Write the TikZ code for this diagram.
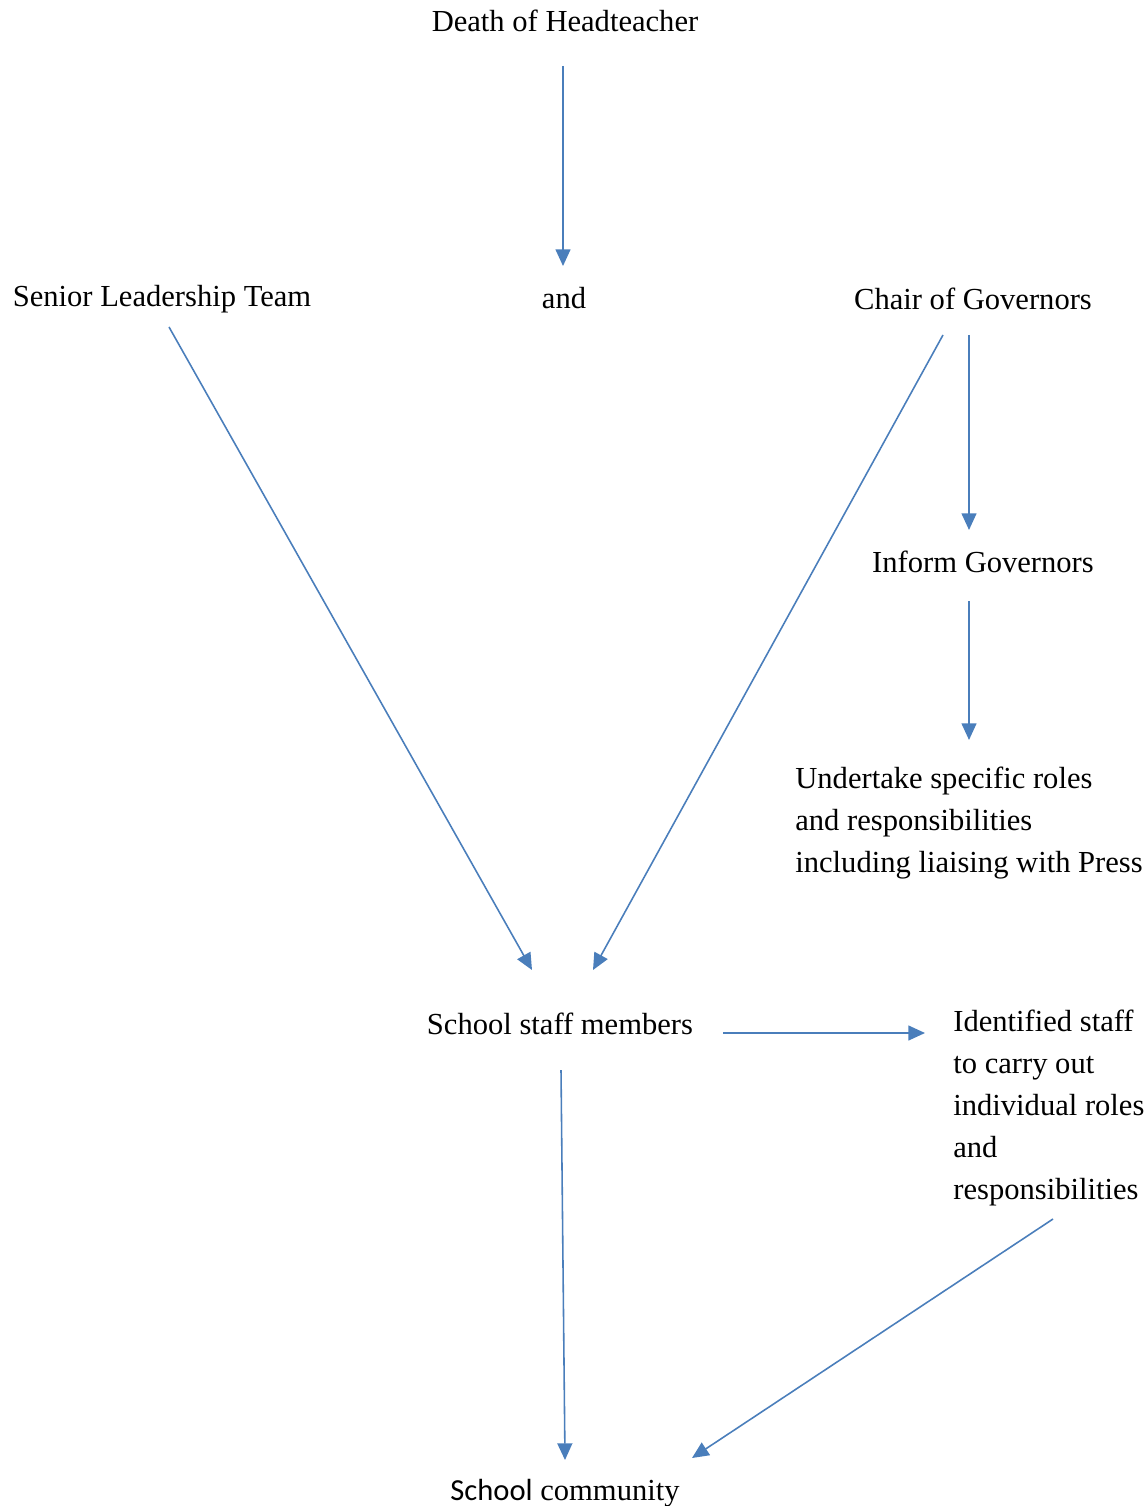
\documentclass[tikz,border=0pt]{standalone}
\usepackage{fontspec}
\setmainfont{Liberation Serif}
\newfontfamily\calibri{Carlito}
\usepackage{tikz}
\usetikzlibrary{arrows.meta,calc}

\definecolor{wordblue}{HTML}{4A7EBB}

\begin{document}
\begin{tikzpicture}[x=0.02cm,y=-0.02cm,
        lbl/.style={inner sep=0pt,font=\fontsize{17.4}{23.8}\selectfont},
        arr/.style={wordblue,line width=0.9pt,-{Triangle[length=9.5pt,width=8.5pt]}}]
            \useasboundingbox (0,0) rectangle (1148,1506);
            % top of the chart
            \node[lbl,anchor=base] (death) at (565,32) {Death of Headteacher};
            \node[lbl,anchor=base] (and) at (564,309) {and};
            \node[lbl,anchor=base] (slt) at (162,307) {Senior Leadership Team};
            \node[lbl,anchor=base] (chair) at (973,310) {Chair of Governors};
            \node[lbl,anchor=base] (inform) at (983,572) {Inform Governors};
            \node[lbl,anchor=base west,align=left] (roles) at (795,872)
                {Undertake specific roles\\and responsibilities\\including liaising with Press};
            % lower part
            \node[lbl,anchor=base] (staff) at (560,1034) {School staff members};
            \node[lbl,anchor=base west,align=left] (ident) at (953,1199)
                {Identified staff\\to carry out\\individual roles\\and\\responsibilities};
            \node[lbl,anchor=base] (community) at (565,1500) {{\calibri School} community};

            \draw[arr] ($(death.base)+(-2,34)$) -- ($(and.base)+(-1,-43)$);
            \draw[arr] ($(slt.base)+(7,20)$) -- ($(staff.base)+(-28,-64)$);
            \draw[arr] ($(chair.base)+(-30,25)$) -- ($(staff.base)+(33,-64)$);
            \draw[arr] ($(chair.base)+(-4,25)$) -- ($(inform.base)+(-14,-42)$);
            \draw[arr] ($(inform.base)+(-14,29)$) -- ($(roles.base west)+(174,-132)$);
            \draw[arr] ($(staff.base)+(163,-1)$) -- ($(ident.base west)+(-28,-166)$);
            \draw[arr] ($(staff.base)+(1,36)$) -- ($(community.base)+(0,-40)$);
            \draw[arr] ($(ident.base west)+(100,20)$) -- ($(community.base)+(127,-42)$);
        \end{tikzpicture}
\end{document}
